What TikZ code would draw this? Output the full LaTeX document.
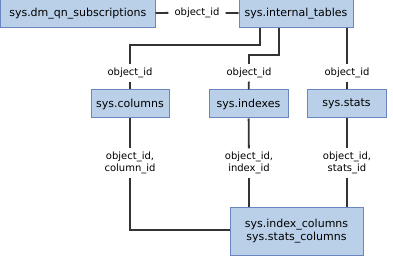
\documentclass[tikz,border=0pt]{standalone}
\usepackage{fontspec}
\setmainfont{DejaVu Sans}
\usetikzlibrary{positioning}
\definecolor{tblfill}{HTML}{B9D0E8}
\definecolor{tbldraw}{HTML}{6A85C0}
\definecolor{wire}{HTML}{333333}

\begin{document}
\begin{tikzpicture}[x=1pt,y=-1pt,
  tbl/.style={draw=tbldraw,fill=tblfill,line width=1pt,inner sep=0pt,font=\fontsize{11}{13}\selectfont,align=center},
  lbl/.style={inner sep=3.5pt,font=\fontsize{10}{12}\selectfont,align=center},
  wire/.style={draw=wire,line width=1.8pt}]
\useasboundingbox (0,0) rectangle (393,256);
\node[tbl,minimum width=154.5pt,minimum height=28pt] (subs) at (77.75,14) {sys.dm\_qn\_subscriptions};
\node[tbl,minimum width=114pt,minimum height=28pt] (internal) at (296,14) {sys.internal\_tables};
\node[tbl,minimum width=78pt,minimum height=28pt] (columns) at (130,104) {sys.columns};
\node[tbl,minimum width=79pt,minimum height=28pt] (indexes) at (248.5,104) {sys.indexes};
\node[tbl,minimum width=79pt,minimum height=28pt] (stats) at (346.5,104) {sys.stats};
\node[tbl,minimum width=133pt,minimum height=47pt] (idxcols) at (296.5,231.5) {sys.index\_columns\\sys.stats\_columns};
% labels
\node[lbl,inner xsep=6pt] (lsubs) at (197,12.5) {object\_id};
\node[lbl] (lcol) at (130,73) {object\_id};
\node[lbl] (lidx) at (249,73) {object\_id};
\node[lbl] (lsta) at (347,73) {object\_id};
\node[lbl] (lcol2) at (130,163) {object\_id,\\column\_id};
\node[lbl] (lidx2) at (249,163) {object\_id,\\index\_id};
\node[lbl] (lsta2) at (347,163) {object\_id,\\stats\_id};
\coordinate (t1) at (260,45);
\coordinate (t2) at (279,55);
% connectors
\draw[wire] (subs) -- (lsubs) -- (internal);
\draw[wire] (internal.south -| t1) -- (t1) -| (lcol);
\draw[wire] (internal.south -| t2) -- (t2) -| (lidx);
\draw[wire] (internal.south -| lsta) -- (lsta);
\draw[wire] (lcol) -- (columns);
\draw[wire] (lidx) -- (indexes);
\draw[wire] (lsta) -- (stats.north -| lsta);
\draw[wire] (columns) -- (lcol2);
\draw[wire] (indexes) -- (lidx2);
\draw[wire] (stats.south -| lsta2) -- (lsta2);
\draw[wire] (lcol2) |- ([yshift=1.5pt]idxcols.west);
\draw[wire] (lidx2) -- (idxcols.north -| lidx2);
\draw[wire] (lsta2) -- (idxcols.north -| lsta2);
\end{tikzpicture}
\end{document}
